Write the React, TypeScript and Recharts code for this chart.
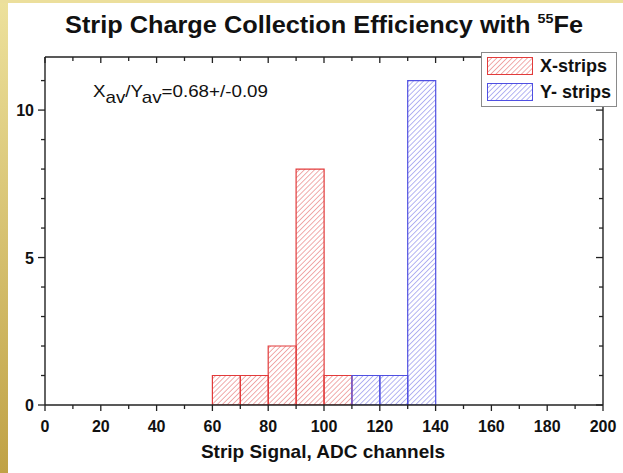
/* Strip charge collection efficiency histogram, X vs Y strips (55Fe). */

import React from "react";
import { Bar, BarChart, Legend, XAxis, YAxis } from "recharts";

// ADC channel bins, 10 wide, given by their centres
const binCenters = [5, 15, 25, 35, 45, 55, 65, 75, 85, 95, 105, 115, 125, 135, 145, 155, 165, 175, 185, 195];
const xStrips = [0, 0, 0, 0, 0, 0, 1, 1, 2, 8, 1, 0, 0, 0, 0, 0, 0, 0, 0, 0];
const yStrips = [0, 0, 0, 0, 0, 0, 0, 0, 0, 0, 0, 1, 1, 11, 0, 0, 0, 0, 0, 0];
const seriesNames = ["X-strips", "Y- strips"];

const xTicks = [0, 10, 20, 30, 40, 50, 60, 70, 80, 90, 100, 110, 120, 130, 140, 150, 160, 170, 180, 190, 200];
const xLabels = [0, 20, 40, 60, 80, 100, 120, 140, 160, 180, 200];
const yTicks = [0, 1, 2, 3, 4, 5, 6, 7, 8, 9, 10, 11];
const yLabels = [0, 5, 10];

const data = binCenters.map((mid, i) => ({ mid, x: xStrips[i], y: yStrips[i] }));

const FONT = "'Liberation Sans', Arial, sans-serif";
const AXIS = "#222";
const RED = "#e23b3b";
const BLUE = "#5050e2";

const axisLine = { stroke: AXIS, strokeWidth: 1.4 };

function BottomTick({ x, y, payload }: any) {
  const major = xLabels.includes(payload.value);
  return (
    <g>
      <line x1={x} x2={x} y1={y} y2={y + (major ? 6 : 4)} stroke={AXIS} strokeWidth={1.3} />
      {major && (
        <text x={x} y={y + 27} textAnchor="middle" fontSize={16} fontWeight="bold" fontFamily={FONT} fill="#111">
          {payload.value}
        </text>
      )}
    </g>
  );
}

function TopTick({ x, y, payload }: any) {
  const major = xLabels.includes(payload.value);
  return <line x1={x} x2={x} y1={y} y2={y + (major ? 6 : 4)} stroke={AXIS} strokeWidth={1.3} />;
}

function LeftTick({ x, y, payload }: any) {
  const major = yLabels.includes(payload.value);
  return (
    <g>
      <line x1={x} x2={x - (major ? 7 : 4)} y1={y} y2={y} stroke={AXIS} strokeWidth={1.3} />
      {major && (
        <text x={x - 11} y={y + 6} textAnchor="end" fontSize={16} fontWeight="bold" fontFamily={FONT} fill="#111">
          {payload.value}
        </text>
      )}
    </g>
  );
}

function RightTick({ x, y, payload }: any) {
  const major = yLabels.includes(payload.value);
  return <line x1={x} x2={x - (major ? 7 : 4)} y1={y} y2={y} stroke={AXIS} strokeWidth={1.3} />;
}

function LegendBox({ payload }: any) {
  const items = (payload || []).filter((p: any) => seriesNames.includes(p.value));
  return (
    <div
      style={{
        border: "1px solid #8a8a8a",
        background: "#fff",
        padding: "4px 0 4px 5px",
        boxSizing: "border-box",
        width: 136,
        height: 55,
      }}
    >
      {items.map((p: any, i: number) => (
        <div key={p.value} style={{ display: "flex", alignItems: "center", height: 18, marginTop: i ? 8 : 0 }}>
          <svg width={46} height={18} style={{ display: "block" }}>
            <rect
              x={0.5}
              y={0.5}
              width={45}
              height={17}
              fill={i ? "url(#hatchBlue)" : "url(#hatchRed)"}
              stroke={i ? BLUE : RED}
            />
          </svg>
          <span style={{ marginLeft: 7, fontFamily: FONT, fontWeight: "bold", fontSize: 18, color: "#111" }}>
            {p.value}
          </span>
        </div>
      ))}
    </div>
  );
}

export default function App() {
  return (
    <div style={{ position: "absolute", left: 0, top: 0, width: 623, height: 473, background: "#fff" }}>
      <div
        style={{
          position: "absolute",
          left: 0,
          top: 0,
          width: 8,
          height: 473,
          background: "linear-gradient(to bottom, #ede19c, #c0a246)",
        }}
      />
      <div style={{ position: "absolute", left: 0, top: 0, width: 623, height: 3, background: "#ecdf9c" }} />

      <svg width={0} height={0} style={{ position: "absolute" }}>
        <defs>
          <pattern id="hatchRed" patternUnits="userSpaceOnUse" width={3.6} height={3.6} patternTransform="rotate(45)">
            <line x1={0} y1={0} x2={0} y2={3.6} stroke="#e25858" strokeWidth={1} />
          </pattern>
          <pattern id="hatchBlue" patternUnits="userSpaceOnUse" width={3.6} height={3.6} patternTransform="rotate(45)">
            <line x1={0} y1={0} x2={0} y2={3.6} stroke="#6a6ae6" strokeWidth={1} />
          </pattern>
        </defs>
      </svg>

      <div style={{ position: "absolute", left: 0, top: 0 }}>
        <BarChart
          width={623}
          height={473}
          data={data}
          margin={{ top: 47, right: 10, bottom: 28, left: 5 }}
          barCategoryGap={0}
          barGap={0}
        >
          <XAxis
            xAxisId="num"
            dataKey="mid"
            type="number"
            scale="linear"
            domain={[0, 200]}
            ticks={xTicks}
            interval={0}
            tickSize={0}
            tickMargin={0}
            tickLine={false}
            tick={BottomTick}
            height={40}
            axisLine={axisLine}
            allowDataOverflow
          />
          <XAxis
            xAxisId="top"
            dataKey="mid"
            orientation="top"
            type="number"
            scale="linear"
            domain={[0, 200]}
            ticks={xTicks}
            interval={0}
            tickSize={0}
            tickMargin={0}
            tickLine={false}
            tick={TopTick}
            height={10}
            axisLine={axisLine}
            allowDataOverflow
          />
          <YAxis
            yAxisId="left"
            type="number"
            domain={[0, 11.8]}
            ticks={yTicks}
            interval={0}
            tickSize={0}
            tickMargin={0}
            tickLine={false}
            tick={LeftTick}
            width={40}
            axisLine={axisLine}
            allowDataOverflow
          />
          <YAxis
            yAxisId="right"
            orientation="right"
            type="number"
            domain={[0, 11.8]}
            ticks={yTicks}
            interval={0}
            tickSize={0}
            tickMargin={0}
            tickLine={false}
            tick={RightTick}
            width={10}
            axisLine={axisLine}
            allowDataOverflow
          />
          {/* invisible series so the mirrored top/right frame axes get their scales */}
          <Bar
            xAxisId="top"
            yAxisId="right"
            dataKey="x"
            fill="none"
            stroke="none"
            legendType="none"
            isAnimationActive={false}
          />
          <Bar
            xAxisId="num"
            yAxisId="left"
            dataKey="x"
            name={seriesNames[0]}
            stackId="s"
            fill="url(#hatchRed)"
            stroke={RED}
            strokeWidth={1.2}
            isAnimationActive={false}
          />
          <Bar
            xAxisId="num"
            yAxisId="left"
            dataKey="y"
            name={seriesNames[1]}
            stackId="s"
            fill="url(#hatchBlue)"
            stroke={BLUE}
            strokeWidth={1.2}
            isAnimationActive={false}
          />
          <Legend
            layout="vertical"
            align="center"
            verticalAlign="middle"
            content={LegendBox}
            wrapperStyle={{ left: 481, top: 52, width: 136, height: 55 }}
          />
        </BarChart>
      </div>

      <svg width={623} height={473} style={{ position: "absolute", left: 0, top: 0, pointerEvents: "none" }}>
        <text
          x={324}
          y={33}
          textAnchor="middle"
          fontSize={23}
          fontWeight="bold"
          fontFamily={FONT}
          fill="#111"
          textLength={518}
          lengthAdjust="spacingAndGlyphs"
        >
          Strip Charge Collection Efficiency with{" "}
          <tspan fontSize={13} dy={-10}>
            55
          </tspan>
          <tspan dy={10}>Fe</tspan>
        </text>
        <text x={93} y={97} fontSize={17} fontFamily={FONT} fill="#111" textLength={175} lengthAdjust="spacingAndGlyphs">
          X<tspan dy={6}>av</tspan>
          <tspan dy={-6}>/Y</tspan>
          <tspan dy={6}>av</tspan>
          <tspan dy={-6}>=0.68+/-0.09</tspan>
        </text>
        <text x={323} y={458} textAnchor="middle" fontSize={19} fontWeight="bold" fontFamily={FONT} fill="#111">
          Strip Signal, ADC channels
        </text>
      </svg>
    </div>
  );
}
